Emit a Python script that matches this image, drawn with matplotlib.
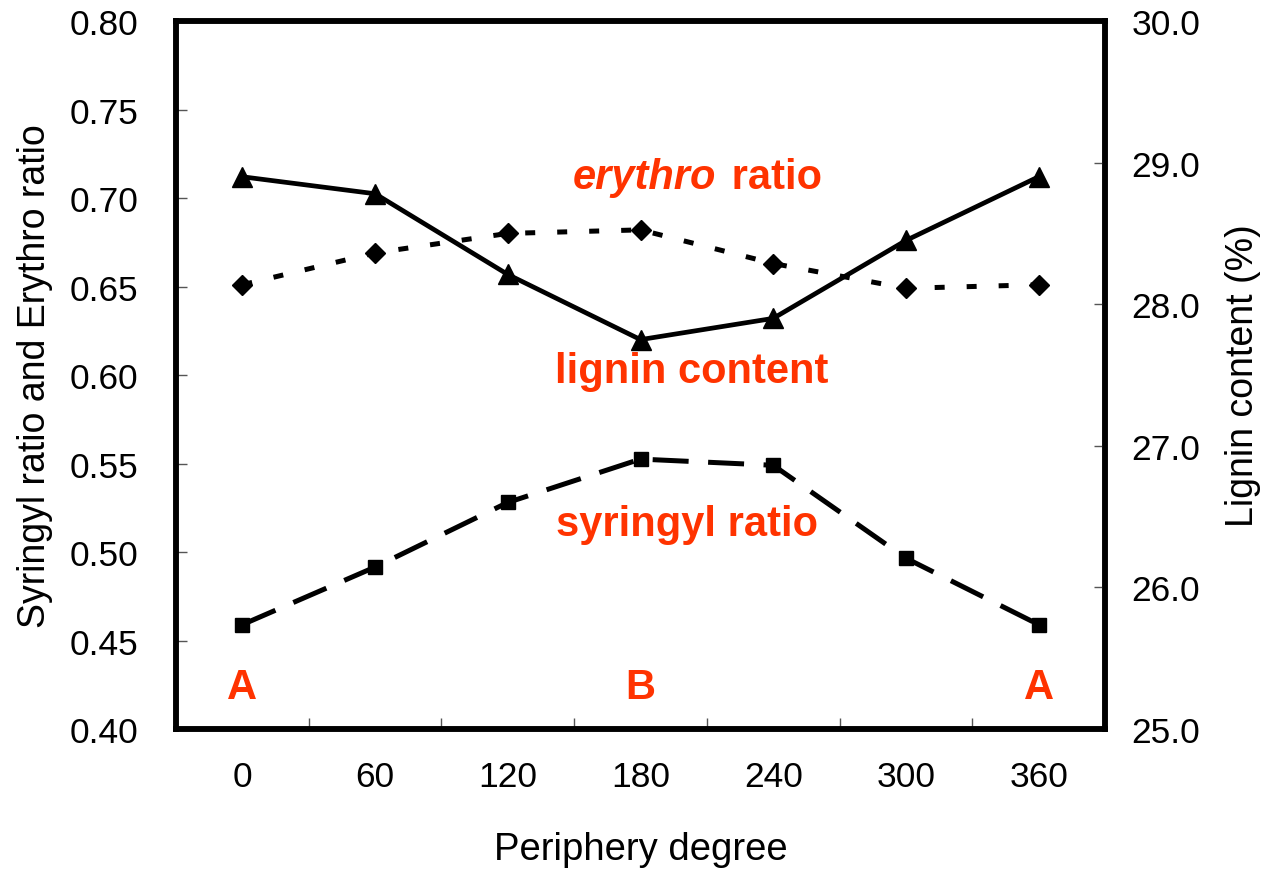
import matplotlib
matplotlib.use("Agg")
from matplotlib import pyplot as plt

plt.rcParams['font.family'] = ['Liberation Sans', 'DejaVu Sans']

# data
degree = [0, 60, 120, 180, 240, 300, 360]
erythro = [0.651, 0.669, 0.680, 0.682, 0.663, 0.649, 0.651]
syringyl = [0.459, 0.4915, 0.528, 0.5525, 0.549, 0.4965, 0.459]
lignin = [28.90, 28.78, 28.21, 27.75, 27.90, 28.45, 28.90]

left_ticks = [0.40, 0.45, 0.50, 0.55, 0.60, 0.65, 0.70, 0.75, 0.80]
right_ticks = [25.0, 26.0, 27.0, 28.0, 29.0, 30.0]

red = '#ff3300'

fig = plt.figure(figsize=(12.73, 8.70), dpi=100)
ax = fig.add_axes([0.1383, 0.1609, 0.7297, 0.8138])
ax2 = ax.twinx()

ax.plot(degree, erythro, color='black', lw=3.6, dashes=(2.0, 4.4),
        marker='D', markersize=10.5, zorder=3)
ax.plot(degree, syringyl, color='black', lw=3.6, dashes=(7.2, 3.9),
        marker='s', markersize=10.5, zorder=3)
ax2.plot(degree, lignin, color='black', lw=3.4, marker='^', markersize=14,
         zorder=3)

ax.set_xlim(-30, 390)
ax.set_ylim(0.40, 0.80)
ax2.set_ylim(25.0, 30.0)

ax.set_yticks(left_ticks)
ax.set_yticklabels([f"{v:.2f}" for v in left_ticks])
ax2.set_yticks(right_ticks)
ax2.set_yticklabels([f"{v:.1f}" for v in right_ticks])

# labels at the categories, tick marks between them
ax.set_xticks(degree)
ax.set_xticklabels([str(d) for d in degree])
ax.set_xticks([30, 90, 150, 210, 270, 330], minor=True)
ax.tick_params(axis='x', which='major', length=0, pad=22, labelsize=25.5)
ax.tick_params(axis='x', which='minor', direction='in', length=8,
               width=1, color='#555555')
ax.tick_params(axis='y', direction='in', length=8, width=1, color='#555555',
               labelsize=25.5, pad=27)
ax2.tick_params(axis='y', direction='in', length=8, width=1, color='#555555',
                labelsize=25.5, pad=19)

for a in (ax, ax2):
    for s in a.spines.values():
        s.set_linewidth(4)

ax.set_xlabel("Periphery degree", fontsize=27.5, labelpad=28)
ax.set_ylabel("Syringyl ratio and Erythro ratio", fontsize=27, labelpad=12)
ax2.set_ylabel("Lignin content (%)", fontsize=27, labelpad=18)

# annotations
ax.text(214, 0.712, "erythro", color=red, fontsize=30, fontweight='bold',
        fontstyle='italic', ha='right', va='center')
ax.text(216, 0.712, " ratio", color=red, fontsize=30, fontweight='bold',
        ha='left', va='center')
ax.text(203, 0.602, "lignin content", color=red, fontsize=30,
        fontweight='bold', ha='center', va='center')
ax.text(201, 0.516, "syringyl ratio", color=red, fontsize=30,
        fontweight='bold', ha='center', va='center')
for xx, lab in [(0, "A"), (180, "B"), (360, "A")]:
    ax.text(xx, 0.4237, lab, color=red, fontsize=30, fontweight='bold',
            ha='center', va='center')

fig.savefig("out.png", dpi=100)
